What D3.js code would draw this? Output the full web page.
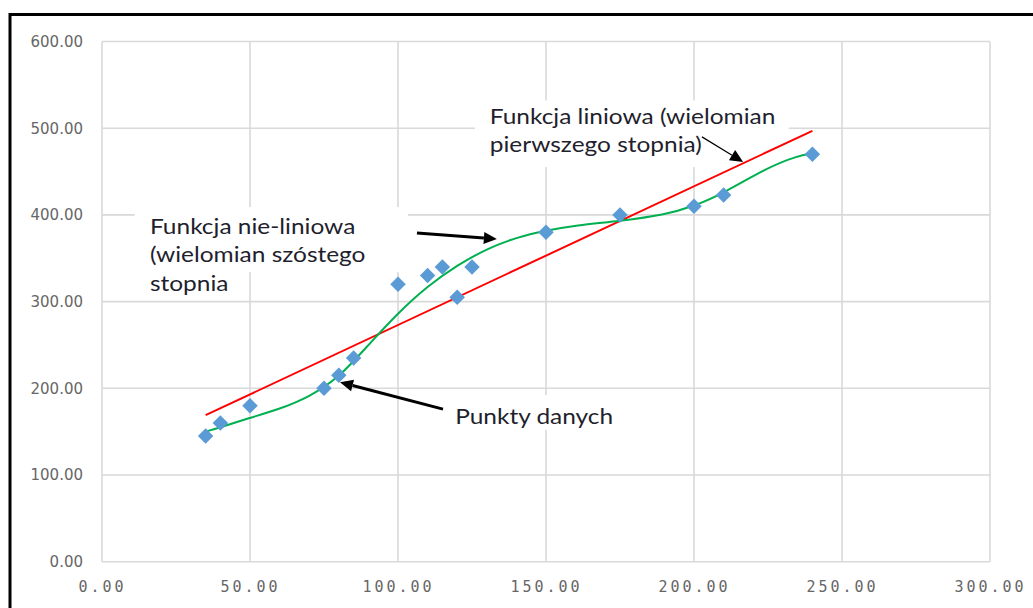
<!DOCTYPE html>
<html>
<head>
<meta charset="utf-8">
<script src="https://d3js.org/d3.v7.min.js"></script>
<style>
  body { margin: 0; background: #fff; }
  svg { display: block; }
</style>
</head>
<body>
<svg id="chart"></svg>
<script>
// data points (blue diamonds)
const pointsX = [35, 40, 50, 75, 80, 85, 100, 110, 115, 120, 125, 150, 175, 200, 210, 240];
const pointsY = [145, 160, 180, 200, 215, 235, 320, 330, 340, 305, 340, 380, 400, 410, 423, 470];

// linear trend (red) - end points
const linearX = [35, 240];
const linearY = [169, 497];

// 6th degree trend (green)
const polyX = [35, 40, 50, 60, 70, 80, 90, 100, 110, 120, 130, 140, 150, 160, 175, 190, 200, 210, 225, 235, 240];
const polyY = [150, 155, 166, 176, 190, 212, 250, 287, 318, 342, 361, 374, 382, 388, 393, 400, 410, 425, 455, 468, 471];

const xTicks = [0, 50, 100, 150, 200, 250, 300];
const yTicks = [0, 100, 200, 300, 400, 500, 600];

// annotations, in data units
const notes = [
  { lines: ["Funkcja liniowa (wielomian", "pierwszego stopnia)"], x: 131, y: 505,
    box: [126, 532, 232, 455], from: [202.7, 490], to: [216.6, 461], w: 1.2 },
  { lines: ["Funkcja nie-liniowa", "(wielomian szóstego", "stopnia"], x: 16.2, y: 378,
    box: [11, 409, 103.4, 334], from: [106.4, 379], to: [133.4, 372.3], w: 3 },
  { lines: ["Punkty danych"], x: 119.3, y: 159,
    box: [117.6, 192, 172, 152], from: [115.2, 176], to: [80.4, 207], w: 3 }
];

const width = 1033, height = 608;
const svg = d3.select("#chart").attr("width", width).attr("height", height);

const x = d3.scaleLinear([0, 300], [102, 990]);
const y = d3.scaleLinear([0, 600], [561.7, 41.5]);

// outer frame
svg.append("rect")
  .attr("x", 10).attr("y", 14.5)
  .attr("width", 1040).attr("height", 620)
  .attr("fill", "none").attr("stroke", "#000").attr("stroke-width", 3);

// grid
const grid = svg.append("g").attr("stroke", "#d9d9d9").attr("stroke-width", 1.6);
grid.selectAll(".v").data(xTicks).join("line")
  .attr("x1", d => x(d)).attr("x2", d => x(d))
  .attr("y1", y(0)).attr("y2", y(600));
grid.selectAll(".h").data(yTicks).join("line")
  .attr("x1", x(0)).attr("x2", x(300))
  .attr("y1", d => y(d)).attr("y2", d => y(d));

// axes labels
const yAxis = d3.axisLeft(y).tickValues(yTicks).tickFormat(d3.format(".2f")).tickSize(0).tickPadding(19);
svg.append("g").attr("transform", `translate(${x(0)},0)`).call(yAxis)
  .call(g => g.select(".domain").remove())
  .call(g => g.selectAll("text").attr("fill", "#666")
    .style("font", "15px 'DejaVu Sans'"));

const xAxis = d3.axisBottom(x).tickValues(xTicks).tickFormat(d3.format(".2f")).tickSize(0).tickPadding(20);
svg.append("g").attr("transform", `translate(0,${y(0)})`).call(xAxis)
  .call(g => g.select(".domain").remove())
  .call(g => g.selectAll("text").attr("fill", "#666")
    .style("font", "15px 'DejaVu Sans Mono'").style("letter-spacing", "3px"));

// white boxes behind annotation texts
svg.append("g").selectAll("rect").data(notes).join("rect")
  .attr("x", d => x(d.box[0])).attr("y", d => y(d.box[1]))
  .attr("width", d => x(d.box[2]) - x(d.box[0]))
  .attr("height", d => y(d.box[3]) - y(d.box[1]))
  .attr("fill", "#fff");

// trend lines
const line = d3.line().x(d => x(d[0])).y(d => y(d[1]));
svg.append("path")
  .attr("d", line(d3.zip(linearX, linearY)))
  .attr("fill", "none").attr("stroke", "#ff0000").attr("stroke-width", 2);
svg.append("path")
  .attr("d", line.curve(d3.curveBasis)(d3.zip(polyX, polyY)))
  .attr("fill", "none").attr("stroke", "#00b050").attr("stroke-width", 2);

// points
const diamond = d3.symbol(d3.symbolSquare, 120);
svg.append("g").selectAll("path").data(d3.zip(pointsX, pointsY)).join("path")
  .attr("d", diamond)
  .attr("transform", d => `translate(${x(d[0])},${y(d[1])}) rotate(45)`)
  .attr("fill", "#5b9bd5");

// annotation texts (picture is stretched sideways, so the text is too)
const txt = svg.append("g").style("font", "21px Lato").attr("fill", "#1f1f2e");
notes.forEach(n => {
  n.lines.forEach((l, i) => {
    txt.append("text")
      .attr("transform", `translate(${x(n.x)},${y(n.y) + i * 28.5}) scale(1.165,1)`)
      .text(l);
  });
});

// arrows
const arr = svg.append("g");
notes.forEach(n => {
  const x1 = x(n.from[0]), y1 = y(n.from[1]), x2 = x(n.to[0]), y2 = y(n.to[1]);
  const a = Math.atan2(y2 - y1, x2 - x1);
  const hl = 13, hw = 6;
  const bx = x2 - hl * Math.cos(a), by = y2 - hl * Math.sin(a);
  arr.append("line").attr("x1", x1).attr("y1", y1).attr("x2", bx).attr("y2", by)
    .attr("stroke", "#000").attr("stroke-width", n.w);
  arr.append("path")
    .attr("d", `M${x2},${y2}L${bx + hw * Math.sin(a)},${by - hw * Math.cos(a)}L${bx - hw * Math.sin(a)},${by + hw * Math.cos(a)}Z`)
    .attr("fill", "#000");
});
</script>
</body>
</html>
